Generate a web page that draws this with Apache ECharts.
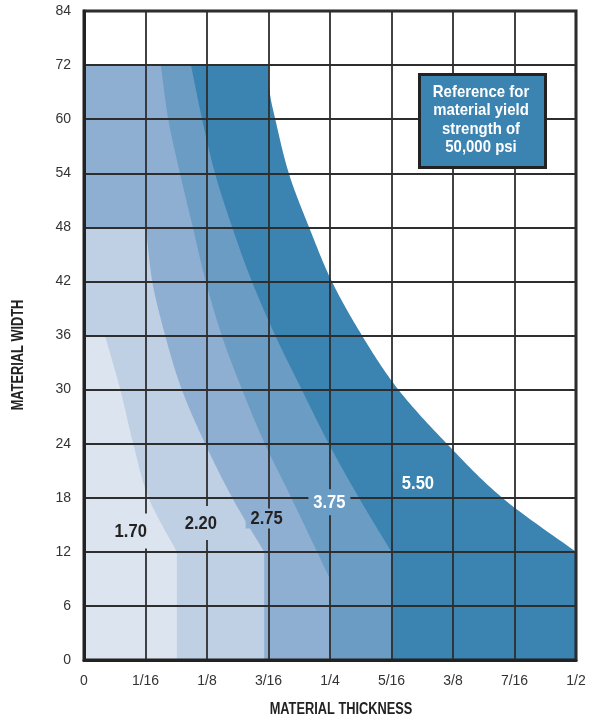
<!DOCTYPE html>
<html><head><meta charset="utf-8">
<script src="https://cdn.jsdelivr.net/npm/echarts@6/dist/echarts.min.js"></script>
<style>html,body{margin:0;padding:0;background:#fff}#c{width:589px;height:719px}</style>
</head><body><div id="c"></div>
<script>
// Tick labels
const xTicks = ['0','1/16','1/8','3/16','1/4','5/16','3/8','7/16','1/2'];   // thickness, in 1/16 in steps
const yTicks = [0,6,12,18,24,30,36,42,48,54,60,72,84];                       // width (uneven spacing on axis)

// Region boundaries: thickness in sixteenths of an inch, width in inches
const r550X = [3.00, 3.02, 3.11, 3.33, 3.66, 4.03, 4.52, 5.11, 5.90, 6.80, 8.00];
const r550Y = [72,   66,   60,   54,   48,   42,   36,   30,   24,   18,   12];
const r375X = [1.74, 1.92, 2.13, 2.41, 2.73, 3.11, 3.54, 3.98, 4.47, 5.00];
const r375Y = [72,   60,   54,   48,   42,   36,   30,   24,   18,   12];
const r275X = [1.25, 1.37, 1.56, 1.77, 1.98, 2.24, 2.57, 2.94, 3.37, 3.79, 4.00];
const r275Y = [72,   60,   54,   48,   42,   36,   30,   24,   18,   12,   9];
const r220X = [1.01, 1.11, 1.32, 1.59, 1.97, 2.41, 2.93];
const r220Y = [48,   42,   36,   30,   24,   18,   12];
const r170X = [0.34, 0.59, 0.80, 1.05, 1.51];
const r170Y = [36,   30,   24,   18,   12];

// Region labels (position in data units)
const labelText = ['1.70','2.20','2.75','3.75','5.50'];
const labelX    = [0.76, 1.90, 2.97, 3.99, 5.43];
const labelY    = [14.3, 15.2, 15.7, 17.5, 19.6];

const colors = {'5.50':'#3b83b0','3.75':'#6a9cc4','2.75':'#8eafd1','2.20':'#bfcfe4','1.70':'#dce4ef'};
const labelColors = {'1.70':'#222','2.20':'#222','2.75':'#222','3.75':'#fff','5.50':'#fff'};
const labelBoxH = {'1.70':35,'2.20':34,'2.75':20,'3.75':26,'5.50':20};
const SANS = '"Liberation Sans",Arial,Helvetica,sans-serif';

// piecewise-linear width scale (axis ticks are evenly spaced but values are not)
function toPos(v){
  for (let i=0;i<yTicks.length-1;i++){
    if (v<=yTicks[i+1]) return i + (v-yTicks[i])/(yTicks[i+1]-yTicks[i]);
  }
  return yTicks.length-1;
}

function bezierPts(pts){
  const out=[pts[0]];
  for (let i=0;i<pts.length-1;i++){
    const p0=pts[i-1]||pts[i], p1=pts[i], p2=pts[i+1], p3=pts[i+2]||pts[i+1];
    const c1=[p1[0]+(p2[0]-p0[0])/6, p1[1]+(p2[1]-p0[1])/6];
    const c2=[p2[0]-(p3[0]-p1[0])/6, p2[1]-(p3[1]-p1[1])/6];
    const N=16;
    for (let k=1;k<=N;k++){
      const t=k/N, u=1-t;
      out.push([
        u*u*u*p1[0]+3*u*u*t*c1[0]+3*u*t*t*c2[0]+t*t*t*p2[0],
        u*u*u*p1[1]+3*u*u*t*c1[1]+3*u*t*t*c2[1]+t*t*t*p2[1]
      ]);
    }
  }
  return out;
}

function region(name, xs, ys){
  return {
    type:'custom', name:name, z:-1, silent:true, data:[0],
    renderItem:function(params, api){
      const pts = xs.map((x,i)=>api.coord([x, toPos(ys[i])]));
      const poly = [api.coord([0,0]), api.coord([0,toPos(ys[0])])]
        .concat(bezierPts(pts))
        .concat([api.coord([xs[xs.length-1],0])]);
      return {type:'polygon', shape:{points:poly}, style:{fill:colors[name]}};
    }
  };
}

const chart = echarts.init(document.getElementById('c'));
chart.setOption({
  animation:false,
  grid:{left:84,right:13,top:11,bottom:59,show:true,borderColor:'#222',borderWidth:3,backgroundColor:'transparent'},
  xAxis:{
    type:'value', min:0, max:8, interval:1,
    axisLine:{show:true, lineStyle:{color:'#222', width:3}},
    axisTick:{show:false},
    axisLabel:{margin:14, fontFamily:SANS, fontSize:14, color:'#333',
      formatter:v=>xTicks[Math.round(v)]},
    splitLine:{show:true, lineStyle:{color:'#2e2e2e', width:1.8}}
  },
  yAxis:{
    type:'value', min:0, max:12, interval:1,
    axisLine:{show:true, lineStyle:{color:'#222', width:3}},
    axisTick:{show:false},
    axisLabel:{margin:13, fontFamily:SANS, fontSize:14, color:'#333',
      formatter:v=>String(yTicks[Math.round(v)])},
    splitLine:{show:true, lineStyle:{color:'#2e2e2e', width:1.8}}
  },
  series:[
    region('5.50', r550X, r550Y),
    region('3.75', r375X, r375Y),
    region('2.75', r275X, r275Y),
    region('2.20', r220X, r220Y),
    region('1.70', r170X, r170Y),
    {
      type:'custom', z:10, silent:true,
      data: labelText.map((t,i)=>[labelX[i], toPos(labelY[i])]),
      renderItem:function(params, api){
        const t = labelText[params.dataIndex];
        const p = api.coord([api.value(0), api.value(1)]);
        const h = labelBoxH[t];
        return {type:'group', children:[
          {type:'rect', shape:{x:p[0]-21, y:p[1]-h/2, width:42, height:h}, style:{fill:colors[t]}},
          {type:'text', x:p[0], y:p[1]+1, scaleX:0.92,
            style:{text:t, font:'bold 18px '+SANS, fill:labelColors[t], align:'center', verticalAlign:'middle'}}
        ]};
      }
    }
  ],
  graphic:{
    zlevel:1,
    elements:[
      {type:'rect', left:418, top:73, z:100, shape:{x:0,y:0,width:126,height:93},
        style:{fill:'#3b83b0', stroke:'#222', lineWidth:3}},
      {type:'text', x:481, y:120, scaleX:0.88, originX:0, z:101,
        style:{text:'Reference for\nmaterial yield\nstrength of\n50,000 psi',
          fill:'#fff', font:'bold 17px '+SANS, align:'center', verticalAlign:'middle', lineHeight:18.5}},
      {type:'text', x:341, y:710, scaleX:0.8, z:100,
        style:{text:'MATERIAL THICKNESS', font:'bold 16px '+SANS, fill:'#222', align:'center', verticalAlign:'middle'}},
      {type:'text', x:19, y:355, rotation:Math.PI/2, scaleX:0.8, z:100,
        style:{text:'MATERIAL WIDTH', font:'bold 16px '+SANS, fill:'#222', align:'center', verticalAlign:'middle'}}
    ]
  }
});
</script>
</body></html>
